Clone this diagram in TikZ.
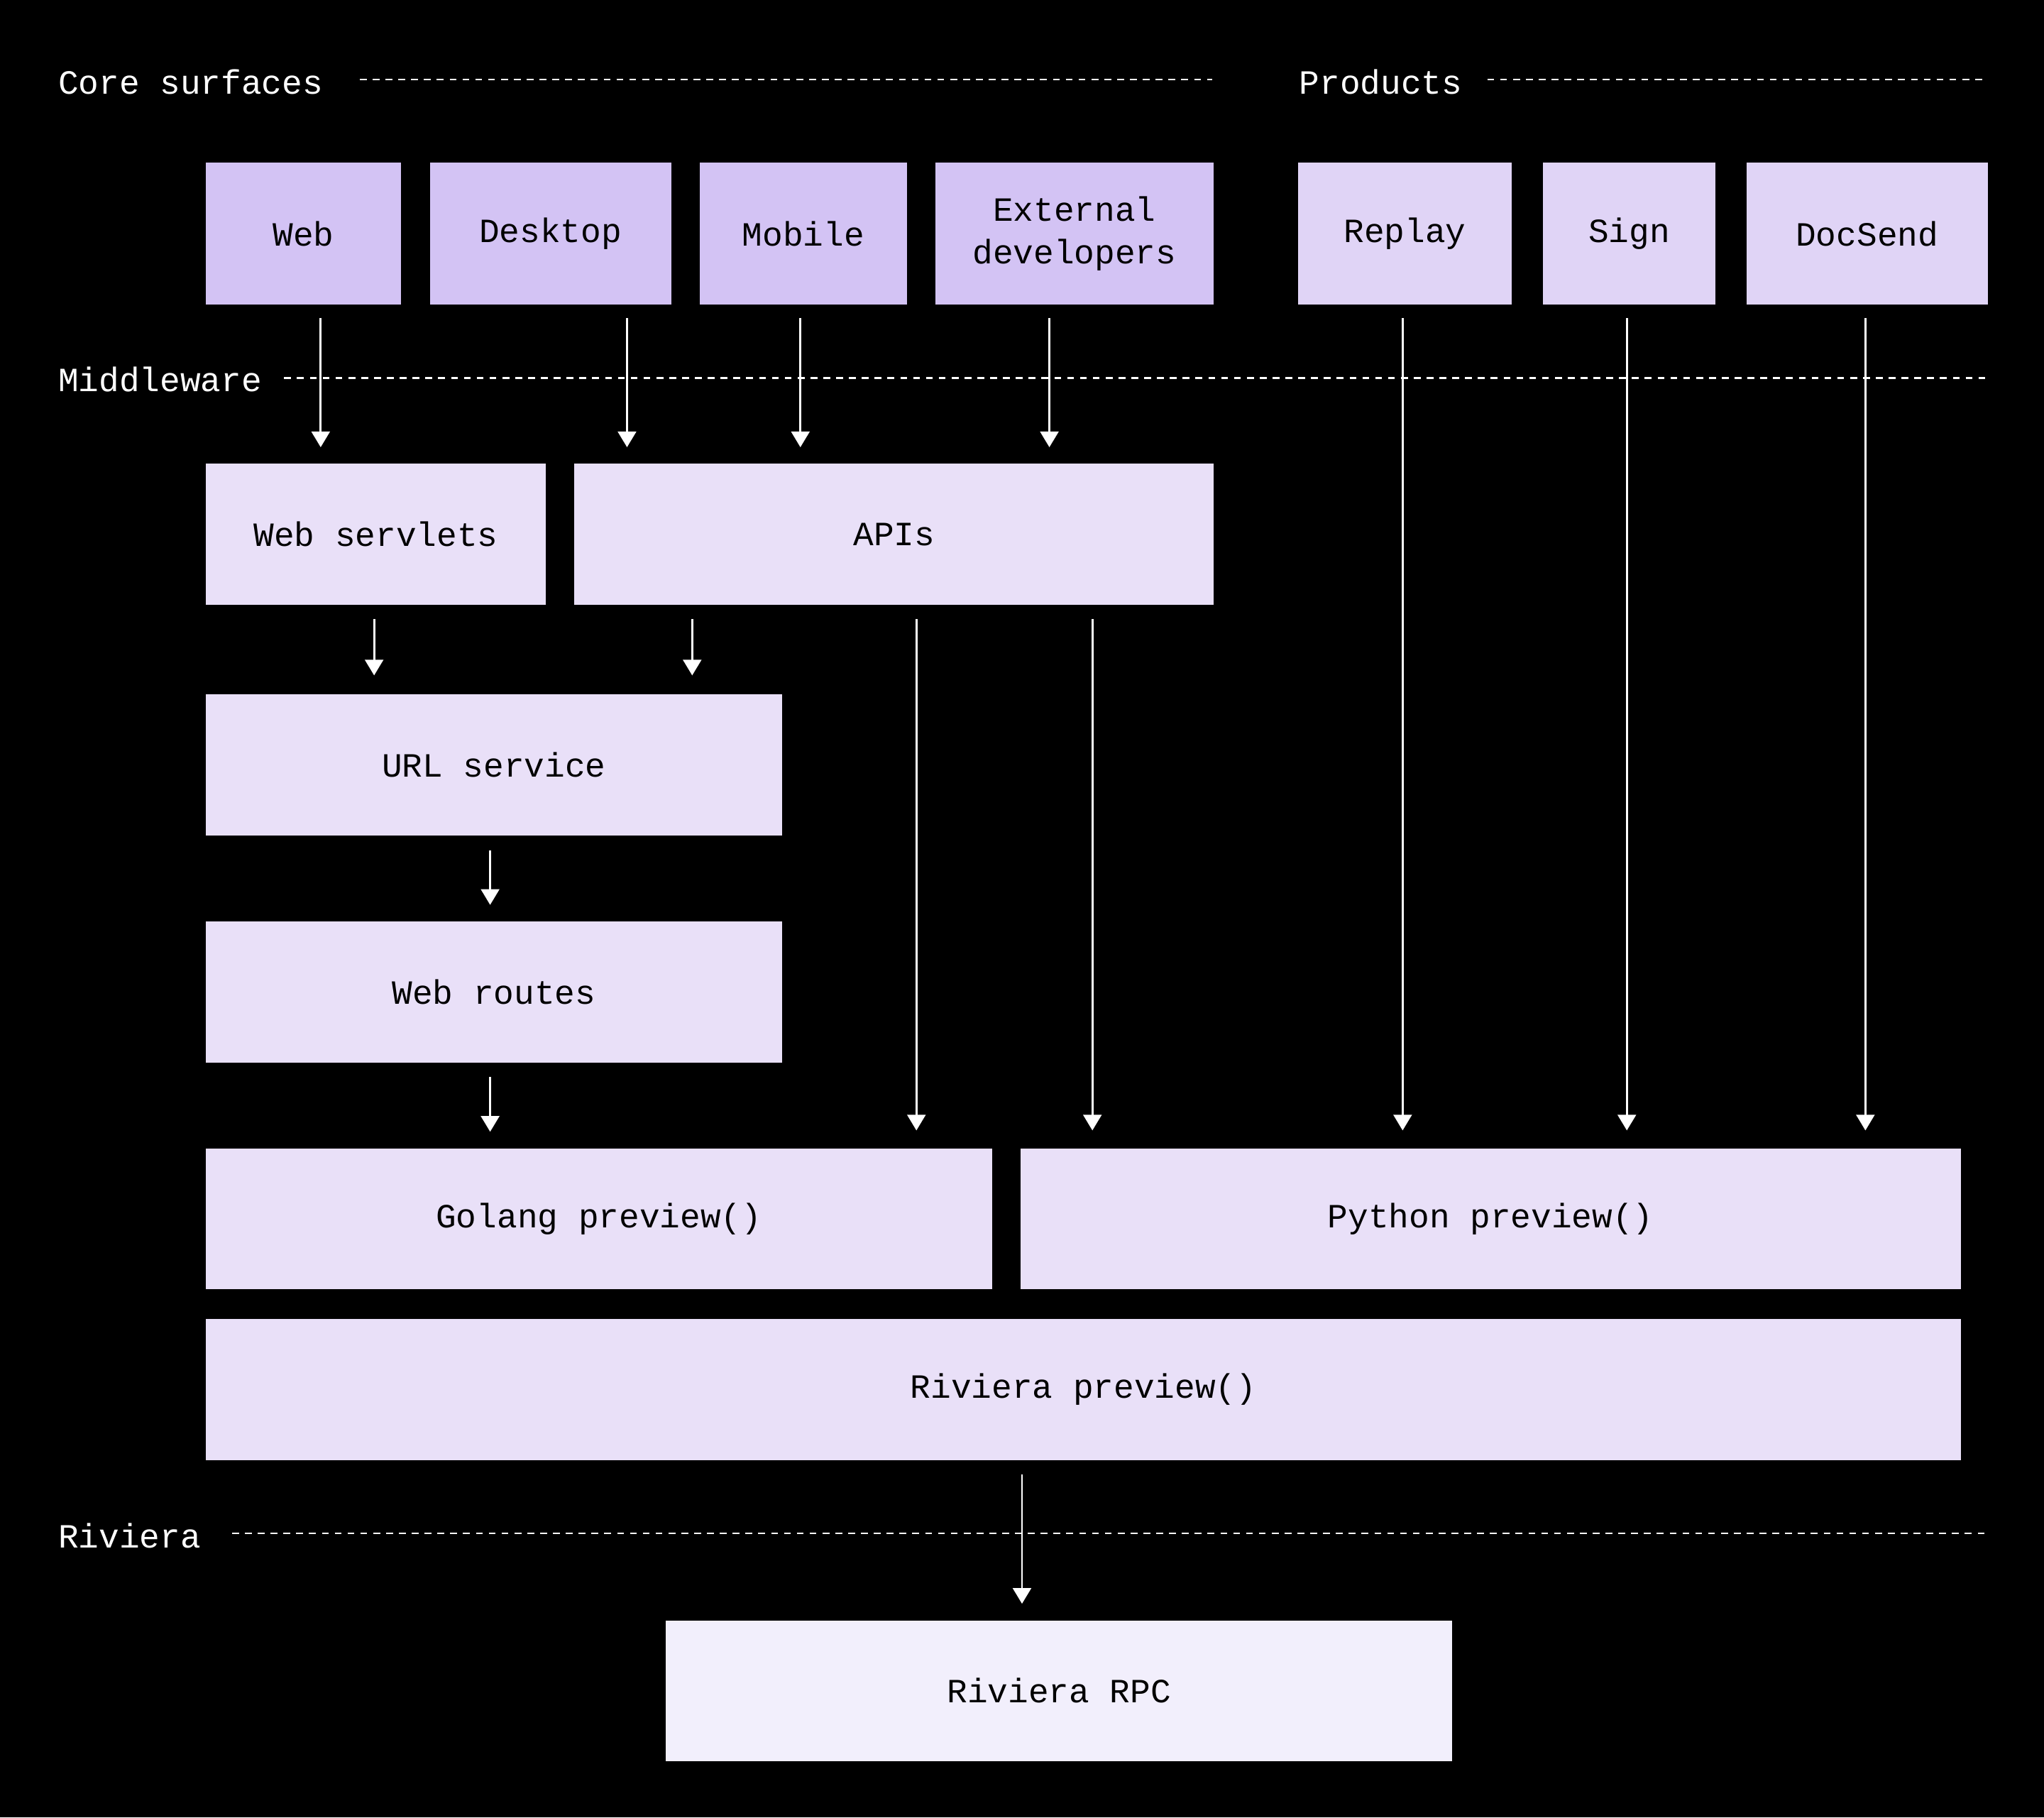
\documentclass[tikz,border=0pt]{standalone}
\usepackage{fontspec}
\setmonofont{Liberation Mono}
\usetikzlibrary{arrows.meta}
\definecolor{corefill}{HTML}{D3C3F4}
\definecolor{prodfill}{HTML}{E0D4F6}
\definecolor{midfill}{HTML}{E9E0F8}
\definecolor{rpcfill}{HTML}{F2EFFC}

\tikzset{
  blk/.style={anchor=north west,inner sep=0pt,align=center,font=\ttfamily\fontsize{7.4}{9.4}\selectfont,text=black},
  lane/.style={white,line width=0.4pt,dash pattern=on 1.5pt off 1.3pt},
  lanetext/.style={anchor=west,inner sep=0pt,text=white,font=\ttfamily\fontsize{7.4}{9}\selectfont},
  arr/.style={white,line width=0.45pt,-{Triangle[width=0.14cm,length=0.12cm]}}
}

\begin{document}
\begin{tikzpicture}[x=0.01cm,y=-0.01cm]
  \fill[black] (0,0) rectangle (1568,1394);
  \useasboundingbox (0,0) rectangle (1568,1394);

  %lanes
  \node[lanetext] (coretitle) at (44,63) {Core surfaces};
  \node[lanetext] (prodtitle) at (996,63) {Products};
  \node[lanetext] (midtitle) at (44,291) {Middleware};
  \node[lanetext] (rivtitle) at (44,1178) {Riviera};
  \draw[lane] (276,61) -- (930,61);
  \draw[lane] (1141,61) -- (1524,61);
  \draw[lane] (218,290) -- (1524,290);
  \draw[lane] (178,1176) -- (1524,1176);

  %core surfaces
  \node[blk,fill=corefill,minimum width=1.50cm,minimum height=1.09cm] (web) at (157,124) {Web};
  \node[blk,fill=corefill,minimum width=1.85cm,minimum height=1.09cm] (desktop) at (329,124) {Desktop};
  \node[blk,fill=corefill,minimum width=1.59cm,minimum height=1.09cm] (mobile) at (536,124) {Mobile};
  \node[blk,fill=corefill,minimum width=2.13cm,minimum height=1.09cm] (extdev) at (717,124) {External\\developers};
  %products
  \node[blk,fill=prodfill,minimum width=1.64cm,minimum height=1.09cm] (replay) at (995,124) {Replay};
  \node[blk,fill=prodfill,minimum width=1.32cm,minimum height=1.09cm] (sign) at (1183,124) {Sign};
  \node[blk,fill=prodfill,minimum width=1.85cm,minimum height=1.09cm] (docsend) at (1339,124) {DocSend};
  %middleware
  \node[blk,fill=midfill,minimum width=2.61cm,minimum height=1.08cm] (servlets) at (157,355) {Web servlets};
  \node[blk,fill=midfill,minimum width=4.90cm,minimum height=1.08cm] (apis) at (440,355) {APIs};
  \node[blk,fill=midfill,minimum width=4.42cm,minimum height=1.08cm] (urlsvc) at (157,532) {URL service};
  \node[blk,fill=midfill,minimum width=4.42cm,minimum height=1.08cm] (routes) at (157,706) {Web routes};
  \node[blk,fill=midfill,minimum width=6.03cm,minimum height=1.08cm] (golang) at (157,880) {Golang preview()};
  \node[blk,fill=midfill,minimum width=7.21cm,minimum height=1.08cm] (python) at (782,880) {Python preview()};
  \node[blk,fill=midfill,minimum width=13.46cm,minimum height=1.08cm] (rivprev) at (157,1011) {Riviera preview()};
  %riviera
  \node[blk,fill=rpcfill,minimum width=6.03cm,minimum height=1.08cm] (rpc) at (510,1242) {Riviera RPC};

  %connectors
  \foreach \x in {246,481,614,805}
    \draw[arr] (\x,244) -- (\x,343);
  \foreach \x in {287,531}
    \draw[arr] (\x,475) -- (\x,518);
  \foreach \x in {703,838}
    \draw[arr] (\x,475) -- (\x,867);
  \foreach \x in {1076,1248,1431}
    \draw[arr] (\x,244) -- (\x,867);
  \draw[arr] (376,652) -- (376,694);
  \draw[arr] (376,826) -- (376,868);
  \draw[arr] (784,1131) -- (784,1230);
\end{tikzpicture}
\end{document}
